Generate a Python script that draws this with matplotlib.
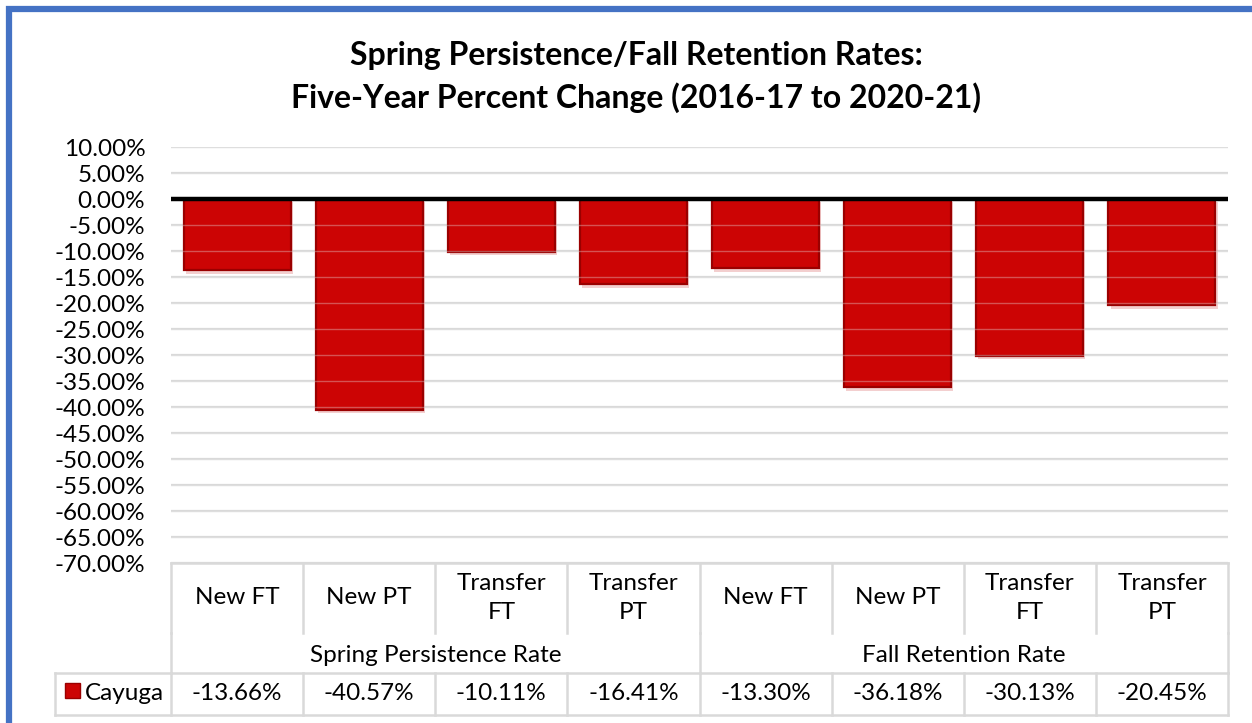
import matplotlib
matplotlib.use("Agg")
import matplotlib.pyplot as plt
import matplotlib.transforms as mtransforms
import matplotlib.patheffects as pe
from matplotlib.patches import Rectangle

plt.rcParams['font.family'] = ['Lato', 'DejaVu Sans']

# ---- data ----
categories = ["New FT", "New PT", "Transfer\nFT", "Transfer\nPT",
              "New FT", "New PT", "Transfer\nFT", "Transfer\nPT"]
groups = ["Spring Persistence Rate", "Fall Retention Rate"]
group_sizes = [4, 4]
series_name = "Cayuga"
values = [-13.66, -40.57, -10.11, -16.41, -13.30, -36.18, -30.13, -20.45]
yticks = list(range(10, -75, -5))
title_lines = ["Spring Persistence/Fall Retention Rates:",
               "Five-Year Percent Change (2016-17 to 2020-21)"]

FS = 17.5
W, H = 1252, 723
fig = plt.figure(figsize=(W / 100, H / 100), dpi=100)
fig.patch.set_facecolor("white")

# plot area in pixels
L, R, T, B = 171, 1228, 147, 563
ax = fig.add_axes([L / W, 1 - B / H, (R - L) / W, (B - T) / H])
ax.set_xlim(-0.5, len(values) - 0.5)
ax.set_ylim(-70, 10)
for s in ax.spines.values():
    s.set_visible(False)
ax.set_xticks([])
ax.set_yticks(yticks)
ax.set_yticklabels([f"{t:.2f}%" for t in yticks], fontsize=FS)
ax.tick_params(axis='y', length=0, pad=18.5)
for t in yticks:
    ax.axhline(t, color="#D9D9D9", lw=1.6, zorder=0.5)

x = list(range(len(values)))
bars = ax.bar(x, values, width=0.81, color="#CC0404", edgecolor="#9A0000",
              linewidth=1.6, zorder=2)
for b in bars:
    b.set_path_effects([pe.SimplePatchShadow(offset=(1.5, -2.5), shadow_rgbFace="#E8A0A0", alpha=0.5),
                        pe.Normal()])
# faint gridlines over bars
for t in yticks:
    if t != 0:
        ax.axhline(t, color="#E8E8E8", lw=1.0, alpha=0.35, zorder=3)
ax.axhline(0, color="black", lw=3.2, zorder=4)

# ---- data table ----
trans = mtransforms.blended_transform_factory(ax.transData, ax.transAxes)
ph = B - T
def ya(py):
    return (B - py) / ph

grid_kw = dict(color="#D9D9D9", lw=1.8, transform=trans, clip_on=False, zorder=1)
n = len(values)
unit = (R - L) / n
left_leg = -0.5 - (L - 55) / unit
# horizontal lines
ax.plot([-0.5, n - 0.5], [ya(563), ya(563)], **grid_kw)
ax.plot([left_leg, n - 0.5], [ya(673), ya(673)], **grid_kw)
ax.plot([left_leg, n - 0.5], [ya(715), ya(715)], **grid_kw)
ax.plot([left_leg, left_leg], [ya(673), ya(715)], **grid_kw)
# vertical lines
for i in range(n + 1):
    xb = i - 0.5
    ax.plot([xb, xb], [ya(563), ya(633)], **grid_kw)
    ax.plot([xb, xb], [ya(673), ya(715)], **grid_kw)
# group separators through group row
pos = 0
bounds = [0]
for g in group_sizes:
    pos += g
    bounds.append(pos)
for bnd in bounds:
    ax.plot([bnd - 0.5, bnd - 0.5], [ya(633), ya(673)], **grid_kw)

for i, c in enumerate(categories):
    ax.text(i, ya(598), c, ha="center", va="center", fontsize=FS,
            transform=trans, linespacing=1.5)
for gi, g in enumerate(groups):
    cx = (bounds[gi] + bounds[gi + 1] - 1) / 2
    ax.text(cx, ya(655), g, ha="center", va="center", fontsize=FS, transform=trans)
for i, v in enumerate(values):
    ax.text(i, ya(694), f"{v:.2f}%", ha="center", va="center", fontsize=FS, transform=trans)
# legend key + series name
key_x = left_leg + 10 / unit
ax.add_patch(Rectangle((key_x, ya(698)), 15 / unit, 15 / ph,
                       facecolor="#CC0404", edgecolor="#9A0000", lw=1,
                       transform=trans, clip_on=False, zorder=2))
ax.text(key_x + 20 / unit, ya(694), series_name, ha="left", va="center",
        fontsize=FS, transform=trans)

# title
fig.text(636 / W, 1 - 56 / H, title_lines[0], ha="center", va="center",
         fontsize=23, fontweight="bold")
fig.text(636 / W, 1 - 98 / H, title_lines[1], ha="center", va="center",
         fontsize=23, fontweight="bold")

# blue chart border
fig.patches.append(Rectangle((9 / W, -0.05), 1.2, 1 - 9 / H + 0.05, transform=fig.transFigure,
                             fill=False, edgecolor="#4472C4", lw=4.5))

fig.savefig("out.png", dpi=100)
